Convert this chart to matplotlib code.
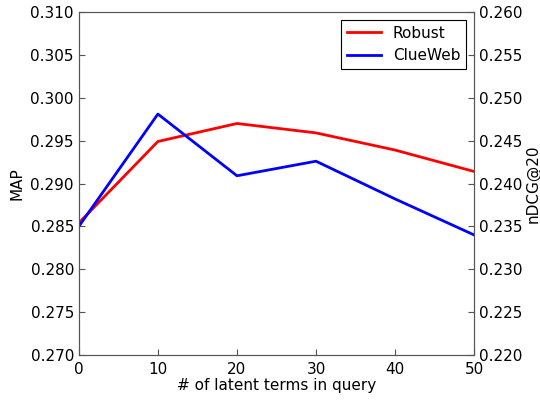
import matplotlib
matplotlib.use("Agg")
import matplotlib.pyplot as plt

x = [0, 10, 20, 30, 40, 50]
robust_map = [0.2854, 0.2949, 0.2970, 0.2959, 0.2939, 0.2914]
clueweb_ndcg = [0.2350, 0.2481, 0.2409, 0.2426, 0.2382, 0.2340]

plt.rcParams['font.family'] = ['DejaVu Sans']
plt.rcParams['font.size'] = 11

fig = plt.figure(figsize=(5.4, 4.0), dpi=100)
ax = fig.add_axes([0.146, 0.1125, 0.732, 0.8575])
ax2 = ax.twinx()

l1, = ax.plot(x, robust_map, color='#ff0000', lw=2, label='Robust')
l2, = ax2.plot(x, clueweb_ndcg, color='#0000ff', lw=2, label='ClueWeb')

ax.set_xlim(0, 50)
ax.set_ylim(0.270, 0.310)
ax2.set_ylim(0.220, 0.260)
ax.set_yticks([0.270 + 0.005 * i for i in range(9)])
ax2.set_yticks([0.220 + 0.005 * i for i in range(9)])
ax.set_yticklabels([f"{0.270 + 0.005 * i:.3f}" for i in range(9)])
ax2.set_yticklabels([f"{0.220 + 0.005 * i:.3f}" for i in range(9)])
ax.set_xticks([0, 10, 20, 30, 40, 50])

for a in (ax, ax2):
    a.tick_params(direction='in', length=4, width=0.8, color='#555555', labelsize=11, top=False)
    for s in a.spines.values():
        s.set_color('#555555')
ax.tick_params(axis='x', pad=5)

ax.set_xlabel('# of latent terms in query', fontsize=11, labelpad=1)
ax.set_ylabel('MAP', fontsize=11)
ax2.set_ylabel('nDCG@20', fontsize=11, labelpad=2)

leg = ax.legend([l1, l2], ['Robust', 'ClueWeb'], loc='upper right', fancybox=False,
                framealpha=1, edgecolor='black', fontsize=11, handlelength=2.2,
                borderaxespad=0.5)
leg.get_frame().set_linewidth(0.8)

fig.savefig('out.png', dpi=100)
